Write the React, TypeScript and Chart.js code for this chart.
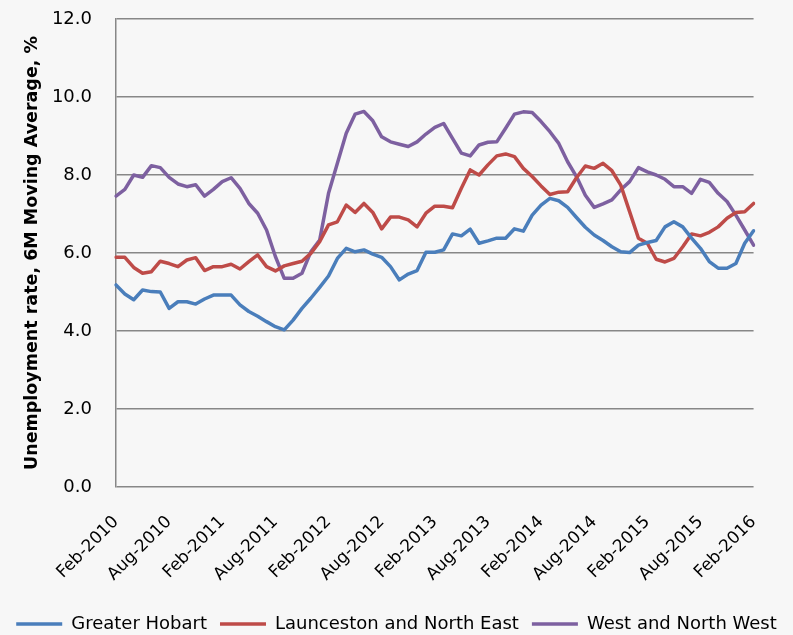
import React, { useEffect, useRef } from "react";
import { Chart, registerables } from "chart.js";

Chart.register(...registerables);

const MONTHS = ["Jan", "Feb", "Mar", "Apr", "May", "Jun", "Jul", "Aug", "Sep", "Oct", "Nov", "Dec"];
const START_YEAR = 2010;
const START_MONTH = 1; // Feb
const N_POINTS = 73;
const categories: string[] = Array.from({ length: N_POINTS }, (_, i) => {
  const m = START_MONTH + i;
  return `${MONTHS[m % 12]}-${START_YEAR + Math.floor(m / 12)}`;
});

const greaterHobart = [
  5.18, 4.95, 4.8, 5.05, 5.01, 5.0, 4.58, 4.75, 4.75, 4.69, 4.82, 4.92,
  4.92, 4.92, 4.67, 4.5, 4.38, 4.24, 4.11, 4.03, 4.28, 4.58, 4.84, 5.12,
  5.41, 5.86, 6.12, 6.03, 6.08, 5.97, 5.89, 5.65, 5.31, 5.46, 5.55, 6.02,
  6.02, 6.08, 6.49, 6.44, 6.61, 6.25, 6.31, 6.38, 6.38, 6.62, 6.56, 6.97,
  7.23, 7.4, 7.34, 7.17, 6.91, 6.66, 6.46, 6.32, 6.16, 6.03, 6.01, 6.2,
  6.27, 6.32, 6.67, 6.8, 6.67, 6.38, 6.12, 5.78, 5.61, 5.61, 5.73, 6.25,
  6.57,
];

const launcestonNorthEast = [
  5.89, 5.89, 5.63, 5.48, 5.52, 5.79, 5.73, 5.65, 5.82, 5.88, 5.55, 5.65,
  5.65, 5.71, 5.59, 5.78, 5.95, 5.65, 5.54, 5.67, 5.73, 5.79, 5.99, 6.29,
  6.72, 6.8, 7.23, 7.04, 7.27, 7.04, 6.62, 6.92, 6.92, 6.85, 6.67, 7.02,
  7.2, 7.2, 7.16, 7.66, 8.13, 8.0, 8.26, 8.49, 8.54, 8.47, 8.17, 7.96,
  7.72, 7.5, 7.56, 7.57, 7.93, 8.23, 8.17, 8.3, 8.11, 7.74, 7.06, 6.38,
  6.25, 5.84, 5.77, 5.86, 6.16, 6.49, 6.44, 6.53, 6.67, 6.89, 7.04, 7.06,
  7.27,
];

const westNorthWest = [
  7.46, 7.63, 8.0, 7.94, 8.24, 8.19, 7.94, 7.77, 7.7, 7.75, 7.46, 7.63,
  7.83, 7.93, 7.66, 7.27, 7.02, 6.59, 5.91, 5.35, 5.35, 5.48, 6.03, 6.33,
  7.53, 8.3, 9.07, 9.56, 9.63, 9.39, 8.98, 8.85, 8.79, 8.73, 8.85, 9.05,
  9.22, 9.32, 8.94, 8.56, 8.49, 8.77, 8.84, 8.85, 9.2, 9.56, 9.62, 9.6,
  9.37, 9.11, 8.81, 8.34, 7.96, 7.48, 7.17, 7.26, 7.36, 7.62, 7.83, 8.19,
  8.08, 8.0, 7.89, 7.7, 7.7, 7.53, 7.89, 7.81, 7.53, 7.32, 6.97, 6.59,
  6.2,
];

const SERIES_NAMES = ["Greater Hobart", "Launceston and North East", "West and North West"];
const SERIES_COLORS = ["#4a7ebb", "#be4b48", "#7d60a0"];
const Y_TITLE = "Unemployment rate, 6M Moving Average, %";
const TICK_EVERY = 6;

export default function App() {
  const ref = useRef<HTMLCanvasElement | null>(null);

  useEffect(() => {
    if (!ref.current) return;
    const values = [greaterHobart, launcestonNorthEast, westNorthWest];
    const font = "'DejaVu Sans', sans-serif";
    const chart = new Chart(ref.current, {
      type: "line",
      data: {
        labels: categories,
        datasets: values.map((d, i) => ({
          label: SERIES_NAMES[i],
          data: d,
          borderColor: SERIES_COLORS[i],
          backgroundColor: SERIES_COLORS[i],
          borderWidth: 3.5,
          pointRadius: 0,
          pointHoverRadius: 0,
          tension: 0,
          borderJoinStyle: "round" as const,
          borderCapStyle: "round" as const,
          fill: false,
          yAxisID: "y",
        })),
      },
      options: {
        animation: false,
        responsive: true,
        maintainAspectRatio: false,
        layout: { padding: { left: 0, right: 0, top: 19, bottom: -8 } },
        plugins: {
          tooltip: { enabled: false },
          legend: {
            position: "bottom",
            labels: {
              usePointStyle: true,
              pointStyle: "line",
              pointStyleWidth: 46,
              boxHeight: 18,
              padding: 13,
              color: "#000",
              font: { family: font, size: 18 },
            },
          },
        },
        scales: {
          x: {
            offset: false,
            grid: { display: false, drawTicks: false },
            border: { display: false },
            afterFit: (scale: any) => {
              scale.height = 115;
            },
            ticks: {
              autoSkip: false,
              maxRotation: 45,
              minRotation: 45,
              padding: 25,
              color: "#000",
              font: { family: font, size: 17 },
              callback: (_v: any, idx: number) => (idx % TICK_EVERY === 0 ? categories[idx] : ""),
            },
          },
          y: {
            min: 0,
            max: 12,
            position: "left",
            afterFit: (scale: any) => {
              scale.width = 116;
              scale.paddingTop = 0;
              scale.paddingBottom = 0;
            },
            grid: { color: "#878787", lineWidth: 1.5, drawTicks: false },
            border: { display: true, color: "#878787", width: 1.5 },
            ticks: {
              stepSize: 2,
              padding: 24,
              color: "#000",
              font: { family: font, size: 18 },
              callback: (v: any) => Number(v).toFixed(1),
            },
            title: {
              display: true,
              text: Y_TITLE,
              color: "#000",
              padding: { top: 22, bottom: 4 },
              font: { family: font, size: 17.5, weight: "bold" },
            },
          },
          yRight: {
            position: "right",
            min: 0,
            max: 12,
            afterFit: (scale: any) => {
              scale.width = 38;
              scale.paddingTop = 0;
              scale.paddingBottom = 0;
            },
            grid: { display: false, drawTicks: false },
            border: { display: false },
            ticks: { display: false },
          },
        },
      },
    });
    return () => chart.destroy();
  }, []);

  return (
    <div
      style={{
        position: "fixed",
        left: 0,
        top: 0,
        width: 793,
        height: 635,
        background: "#f7f7f7",
      }}
    >
      <canvas ref={ref} />
    </div>
  );
}
